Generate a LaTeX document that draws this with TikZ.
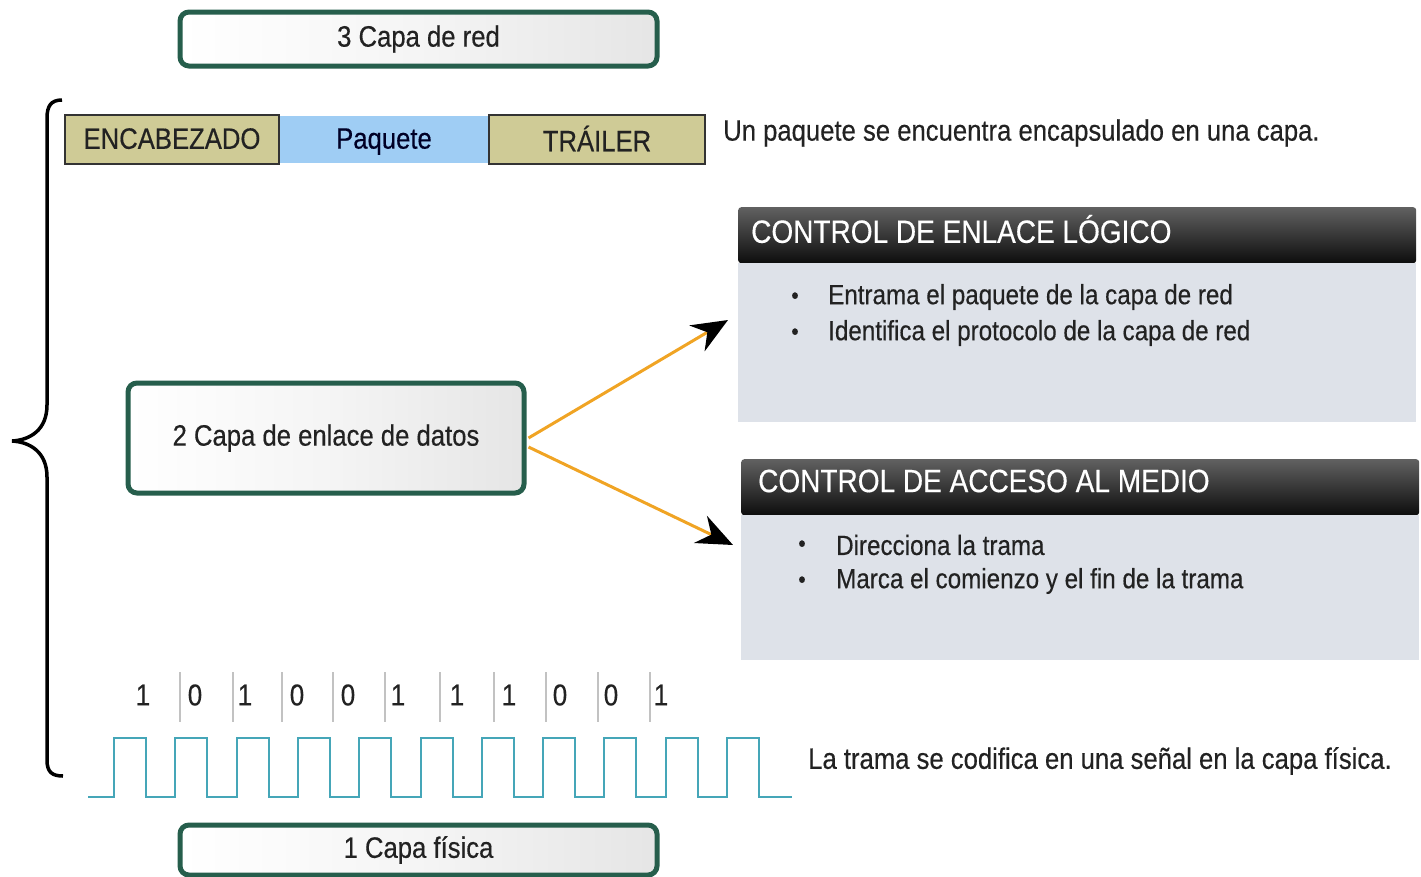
\documentclass[tikz,border=0pt]{standalone}
\usepackage{fontspec}
\setmainfont{Liberation Sans}[FakeStretch=0.87,FakeBold=0.4]
\usetikzlibrary{arrows.meta}
\definecolor{layergreen}{HTML}{265E4C}
\definecolor{khaki}{HTML}{CFCB96}
\definecolor{pktblue}{HTML}{9FCDF4}
\definecolor{bodygray}{HTML}{DEE2E9}
\definecolor{arroworange}{HTML}{F0A424}
\definecolor{wave}{HTML}{45A6B8}
\definecolor{txt}{HTML}{222222}
\definecolor{bitline}{HTML}{C2C2C2}
\begin{document}
\begin{tikzpicture}[x=1pt,y=-1pt,
  lbl/.style={text=txt,font=\fontsize{29.5}{34}\selectfont,inner sep=0pt},
  layerbox/.style={draw=layergreen,line width=5pt,rounded corners=9pt,left color=white,right color=black!10,middle color=white!96!black,text=txt,font=\fontsize{29.5}{34}\selectfont},
  pktpart/.style={draw=black!80,line width=2.5pt,fill=khaki,minimum height=49pt,text=txt,font=\fontsize{29.5}{34}\selectfont,text depth=2pt},
  hdr/.style={top color=black!62,bottom color=black!95,draw=none,rounded corners=3pt,anchor=north west},
  hdrtext/.style={text=white,font=\fontsize{32.2}{36}\selectfont,anchor=west,inner sep=0pt},
  body/.style={fill=bodygray,draw=none,anchor=north west},
  bul/.style={text=txt,font=\fontsize{24}{28}\selectfont,inner sep=0pt},
  bultext/.style={text=txt,font=\fontsize{27.8}{32}\selectfont,anchor=west,inner sep=0pt},
  bit/.style={text=txt,font=\fontsize{30}{34}\selectfont,inner sep=0pt},
  conn/.style={draw=arroworange,line width=3pt,-{Stealth[black,length=36pt,width=30pt,inset=12pt]}},
]
\path[use as bounding box] (0,0) rectangle (1421,876);

% layer boxes
\node[layerbox,minimum width=477pt,minimum height=54pt] (red) at (418.5,39) {3 Capa de red};
\node[layerbox,minimum width=396pt,minimum height=110pt] (enlace) at (326,438) {2 Capa de enlace de datos};
\node[layerbox,minimum width=477pt,minimum height=50pt] (fisica) at (418.5,850) {1 Capa física};

% brace
\draw[line width=3.5pt,black] (62,100) .. controls (51,100) and (47,106) .. (47,118)
  -- (47,405) .. controls (47,430) and (30,440) .. (12,441)
  .. controls (30,442) and (47,452) .. (47,477)
  -- (47,760) .. controls (47,772) and (52,776) .. (63,776);

% packet
\node[fill=pktblue,minimum width=210pt,minimum height=47pt,text=black!85!blue,font=\fontsize{29.5}{34}\selectfont,text depth=2pt] (paquete) at (384,139.5) {Paquete};
\node[pktpart,minimum width=214pt] (encab) at (172,139.5) {ENCABEZADO};
\node[pktpart,minimum width=216pt] (trailer) at (597,139.5) {TRÁILER};
\node[lbl,anchor=west] (pktnote) at (723,133) {Un paquete se encuentra encapsulado en una capa.};

% LLC
\node[hdr,minimum width=678pt,minimum height=56pt] (llchead) at (738,207) {};
\node[body,minimum width=678pt,minimum height=159pt] (llc) at (738,263) {};
\node[hdrtext] (llct) at (751,229) {CONTROL DE ENLACE LÓGICO};
\node[bul] (llcb1) at (795,298) {•};
\node[bultext] (llcl1) at (828,297) {Entrama el paquete de la capa de red};
\node[bul] (llcb2) at (795,334) {•};
\node[bultext] (llcl2) at (828,333) {Identifica el protocolo de la capa de red};

% MAC
\node[hdr,minimum width=678pt,minimum height=56pt] (machead) at (741,459) {};
\node[body,minimum width=678pt,minimum height=145pt] (mac) at (741,515) {};
\node[hdrtext] (mact) at (758,481) {CONTROL DE ACCESO AL MEDIO};
\node[bul] (macb1) at (802,546) {•};
\node[bultext] (macl1) at (836,545) {Direcciona la trama};
\node[bul] (macb2) at (802,582) {•};
\node[bultext] (macl2) at (836,581) {Marca el comienzo y el fin de la trama};

% connectors
\coordinate (tip1) at (728,320);
\coordinate (tip2) at (733,545);
\draw[conn] ([xshift=2pt]enlace.east) -- (tip1);
\draw[conn] ([xshift=2pt,yshift=-9pt]enlace.east) -- (tip2);

% bits
\foreach \b [count=\i] in {1,0,1,0,0,1,1,1,0,0,1} {
  \pgfmathsetmacro{\bx}{{143,195,245,297,348,398,457,509,560,611,661}[\i-1]}
  \node[bit] (bit\i) at (\bx,695) {\b};
}
\foreach \lx in {180,233,282,333,385,440,494,546,598,650}
  \draw[bitline,line width=2pt] (\lx,672) -- (\lx,722);

% signal
\draw[wave,line width=2pt,line join=miter]
  (88,797) \foreach \k in {0,...,10} {
    -- ({114+61.3*\k},797) -- ({114+61.3*\k},738) -- ({146+61.3*\k},738) -- ({146+61.3*\k},797)
  } -- (792,797);
\node[lbl,anchor=west] (signote) at (808,761) {La trama se codifica en una señal en la capa física.};
\end{tikzpicture}
\end{document}
